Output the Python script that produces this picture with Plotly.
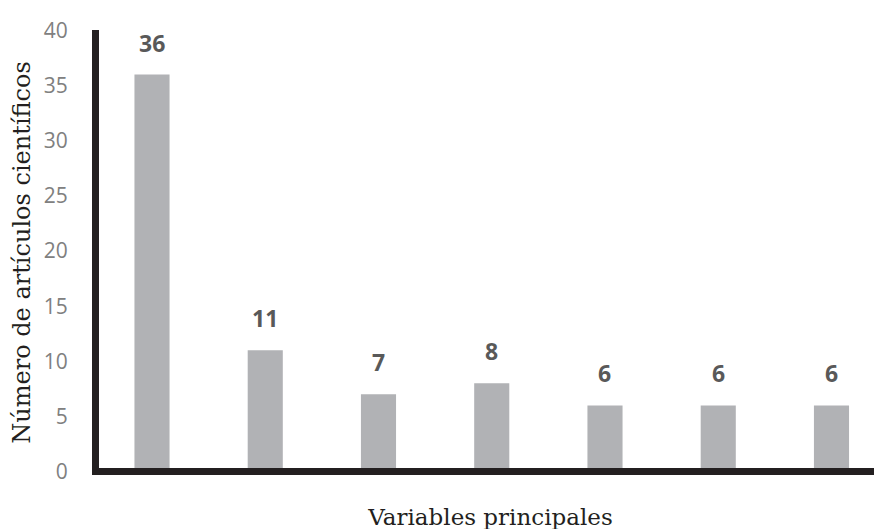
import plotly.graph_objects as go

categories = ["V1", "V2", "V3", "V4", "V5", "V6", "V7"]
values = [36, 11, 7, 8, 6, 6, 6]
y_ticks = [0, 5, 10, 15, 20, 25, 30, 35, 40]

fig = go.Figure()
fig.add_trace(go.Bar(
    x=categories, y=values, width=0.31,
    marker=dict(color="#b1b2b5", line=dict(width=0)),
    hoverinfo="skip",
))

for c, v in zip(categories, values):
    fig.add_annotation(
        x=c, y=v, text=str(v), showarrow=False, yanchor="middle", yshift=32,
        font=dict(family="Open Sans", size=23, color="#595959", weight="bold"),
    )

fig.update_layout(
    width=882, height=529,
    margin=dict(l=91, r=8, t=16, b=62),
    paper_bgcolor="white", plot_bgcolor="white",
    showlegend=False,
    xaxis=dict(
        range=[-0.468, 6.446], showticklabels=False, ticks="",
        showgrid=False, zeroline=False,
        anchor="free", position=0.0089,
        showline=True, linecolor="#231f20", linewidth=7,
        title=dict(text="Variables principales", standoff=34,
                   font=dict(family="DejaVu Serif", size=23, color="#231f20")),
    ),
    yaxis=dict(
        range=[-0.313, 40.045], tickvals=y_ticks, ticks="",
        showgrid=False, zeroline=False,
        showline=True, linecolor="#231f20", linewidth=7,
        ticklabelstandoff=20,
        tickfont=dict(family="Open Sans", size=21, color="#808080"),
        title=dict(text="Número de artículos científicos", standoff=10,
                   font=dict(family="DejaVu Serif", size=24, color="#231f20")),
    ),
)

fig.write_html("out.html")
